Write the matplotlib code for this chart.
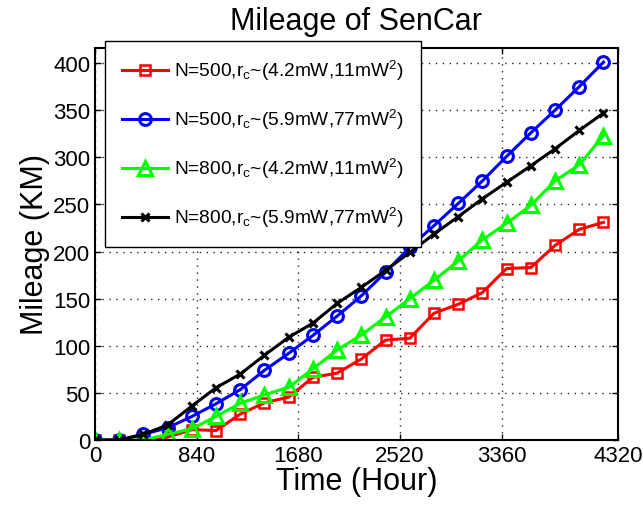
import matplotlib
matplotlib.use("Agg")
import matplotlib.pyplot as plt

plt.rcParams['font.family'] = ['Liberation Sans', 'DejaVu Sans']
plt.rcParams['mathtext.fontset'] = 'custom'
plt.rcParams['mathtext.rm'] = 'Liberation Sans'
plt.rcParams['mathtext.it'] = 'Liberation Sans:italic'
plt.rcParams['mathtext.bf'] = 'Liberation Sans:bold'

hours = [0, 200, 400, 600, 800, 1000, 1200, 1400, 1600, 1800, 2000,
         2200, 2400, 2600, 2800, 3000, 3200, 3400, 3600, 3800, 4000, 4200]

red_500_42 = [0, 0, 0, 3, 11, 10, 27.5, 39.5, 45.5, 66.5, 71, 86, 106, 108,
              134.5, 144, 156.5, 182, 183, 206.5, 223.5, 231]
blue_500_59 = [0, 0, 6, 13, 25, 38.5, 53.5, 74, 92, 111, 131.5, 153, 178,
               204.5, 227.5, 251, 275, 301, 326, 350, 375, 401]
green_800_42 = [0, 0, 0, 6, 12, 25, 39, 48, 56, 75.5, 95.5, 111.5, 130.5,
                150, 169.5, 190, 212.5, 230, 249, 275, 292, 323]
black_800_59 = [0, 0, 6, 16, 36, 55.5, 70, 90, 109, 124, 145, 162, 180, 199,
                218.5, 237, 256, 273.5, 291, 309, 328.5, 347]

labels = [r'N=500,r$_{\mathrm{c}}$~(4.2mW,11mW$^{\mathrm{2}}$)',
          r'N=500,r$_{\mathrm{c}}$~(5.9mW,77mW$^{\mathrm{2}}$)',
          r'N=800,r$_{\mathrm{c}}$~(4.2mW,11mW$^{\mathrm{2}}$)',
          r'N=800,r$_{\mathrm{c}}$~(5.9mW,77mW$^{\mathrm{2}}$)']

xticks = [0, 840, 1680, 2520, 3360, 4320]
yticks = [0, 50, 100, 150, 200, 250, 300, 350, 400]

fig = plt.figure(figsize=(6.43, 5.06), dpi=100)
ax = fig.add_axes([95/643, 1-441/506, (618-95)/643, (441-49)/506])

ax.plot(hours, red_500_42, color='#ff0000', lw=2.2, marker='s', ms=7,
        mfc='none', mew=1.8, label=labels[0])
ax.plot(hours, blue_500_59, color='#0000ff', lw=2.2, marker='o', ms=8.5,
        mfc='none', mew=2.2, label=labels[1])
ax.plot(hours, green_800_42, color='#00ff00', lw=2.2, marker='^', ms=10,
        mfc='none', mew=2.2, label=labels[2])
ax.plot(hours, black_800_59, color='#000000', lw=2.2, marker='x', ms=6,
        mew=2.2, label=labels[3])

ax.set_xlim(0, 4320)
ax.set_ylim(0, 416)
ax.set_xticks(xticks)
ax.set_xticklabels([str(t) for t in xticks])
ax.set_yticks(yticks)
ax.tick_params(direction='in', top=True, right=True, labelsize=16,
               length=4, width=1)
ax.grid(True, linestyle=(0, (1, 4)), color='#222222', linewidth=1.0)
for s in ax.spines.values():
    s.set_linewidth(1.5)

ax.set_title('Mileage of SenCar', fontsize=22, pad=14)
ax.set_xlabel('Time (Hour)', fontsize=22, labelpad=0)
ax.set_ylabel('Mileage (KM)', fontsize=22, labelpad=2)

leg = ax.legend(loc='upper left', bbox_to_anchor=(105/643, 1-42/506),
                bbox_transform=fig.transFigure, fontsize=13.8, frameon=True,
                fancybox=False, framealpha=1, edgecolor='black',
                handlelength=2.4, handletextpad=0.3, labelspacing=1.3,
                borderpad=0.9, borderaxespad=0)
leg.get_frame().set_linewidth(1.0)

fig.savefig('out.png', dpi=100)
